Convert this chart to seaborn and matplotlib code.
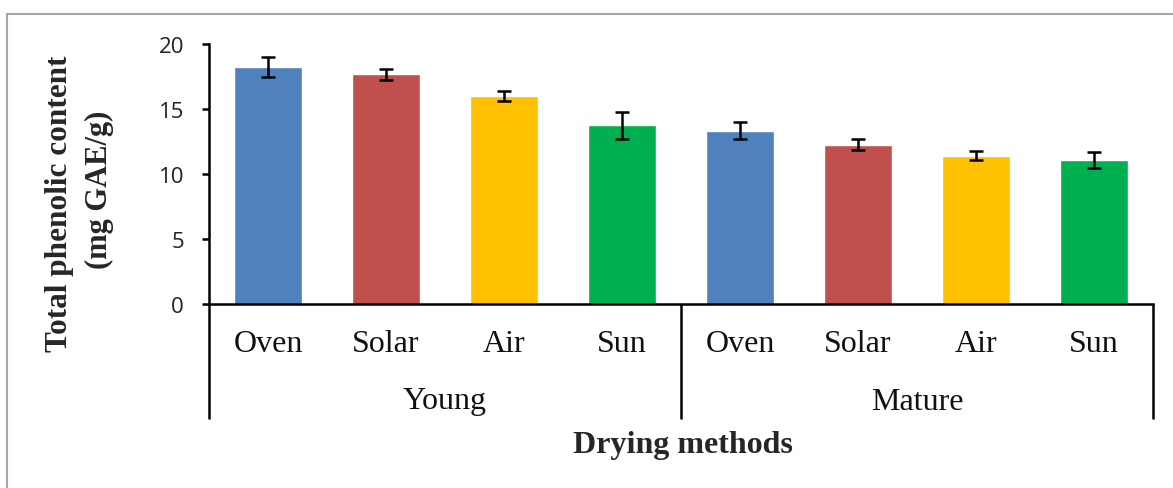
import matplotlib
matplotlib.use("Agg")
import matplotlib.pyplot as plt
import matplotlib.transforms as mtransforms
from matplotlib.lines import Line2D
import pandas as pd
import seaborn as sns

# Total phenolic content by leaf stage and drying method
stages = ["Young"] * 4 + ["Mature"] * 4
methods = ["Oven", "Solar", "Air", "Sun"] * 2
tpc = [18.25, 17.67, 15.98, 13.75, 13.33, 12.25, 11.40, 11.10]
sd = [0.75, 0.42, 0.37, 1.04, 0.67, 0.42, 0.36, 0.60]
method_colors = {"Oven": "#4F81BD", "Solar": "#C0504D", "Air": "#FFC000", "Sun": "#00B050"}
y_ticks = [0, 5, 10, 15, 20]

df = pd.DataFrame({"stage": stages, "method": methods, "tpc": tpc, "sd": sd})
df["bar"] = df["stage"] + " " + df["method"]
palette = {b: method_colors[m] for b, m in zip(df["bar"], df["method"])}

sns.set_theme(style="white")
serif = ["Liberation Serif", "DejaVu Serif"]
sans = ["Open Sans", "DejaVu Sans"]

W, H = 1173, 489
fig = plt.figure(figsize=(W / 100, H / 100), dpi=100)
ax = fig.add_axes([209 / W, 1 - 305 / H, (1153 - 209) / W, 260 / H])

sns.barplot(data=df, x="bar", y="tpc", hue="bar", palette=palette,
            order=list(df["bar"]), hue_order=list(df["bar"]),
            legend=False, errorbar=None, width=0.57, saturation=1, ax=ax)
ax.errorbar(x=list(range(len(df))), y=df["tpc"], yerr=df["sd"], fmt="none",
            ecolor="black", elinewidth=1.8, capsize=4.7, capthick=1.8, zorder=5)

ax.set_xlim(-0.5, len(df) - 0.5)
ax.set_ylim(0, 20)
ax.set_yticks(y_ticks)
ax.set_yticklabels([str(t) for t in y_ticks], fontfamily=sans, fontsize=16, color="#222222")
ax.tick_params(axis="y", direction="out", length=5, width=1.8, color="black", pad=13, left=True)
ax.set_xticks([])
ax.set_xlabel("")
ax.set_ylabel("")
for s in ["top", "right"]:
    ax.spines[s].set_visible(False)
for s in ["left", "bottom"]:
    ax.spines[s].set_linewidth(1.8)
    ax.spines[s].set_color("black")

# Two-level category axis: method labels, stage labels and bracket lines
tr = mtransforms.blended_transform_factory(ax.transData, ax.transAxes)
bracket_bottom = (305 - 420) / 260
for xb in [-0.5, 3.5, 7.5]:
    ax.plot([xb, xb], [0, bracket_bottom], color="black", lw=1.8,
            transform=tr, clip_on=False, solid_capstyle="butt")
for i, m in enumerate(df["method"]):
    ax.text(i, (305 - 344) / 260, m, transform=tr, ha="center", va="center",
            fontfamily=serif, fontsize=23, color="#111111")
for center, st in [(1.5, "Young"), (5.5, "Mature")]:
    ax.text(center, (305 - 402) / 260, st, transform=tr, ha="center", va="center",
            fontfamily=serif, fontsize=23, color="#111111")

fig.text(683 / W, 1 - 446 / H, "Drying methods", ha="center", va="center",
         fontfamily=serif, fontsize=23, fontweight="bold")
fig.text(60 / W, 1 - 204 / H, "Total phenolic content", ha="center", va="center",
         rotation=90, fontfamily=serif, fontsize=22.5, fontweight="bold")
fig.text(99 / W, 1 - 190 / H, "(mg GAE/g)", ha="center", va="center",
         rotation=90, fontfamily=serif, fontsize=22, fontweight="bold")

# Outer frame edges
fig.add_artist(Line2D([7 / W, 1], [1 - 15 / H, 1 - 15 / H], color="#a6a6a6", lw=1.5,
                      transform=fig.transFigure))
fig.add_artist(Line2D([7 / W, 7 / W], [0, 1 - 15 / H], color="#a6a6a6", lw=1.5,
                      transform=fig.transFigure))

fig.savefig("out.png", dpi=100, facecolor="white")
